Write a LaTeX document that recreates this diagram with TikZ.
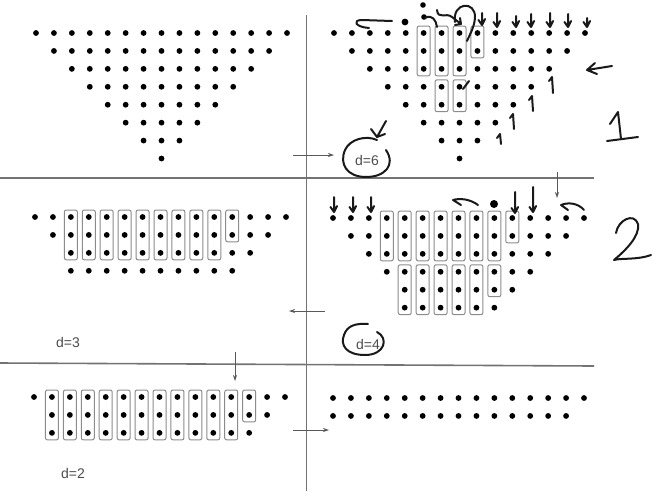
\documentclass[tikz,border=0pt]{standalone}
\usepackage{fontspec}
\setsansfont{Liberation Sans}
\usetikzlibrary{arrows.meta}

\tikzset{
	sepline/.style={draw=black!55, line width=1.6pt},
	colbox/.style={draw=black!45, line width=1pt, rounded corners=2pt},
	ink/.style={draw=black!90, line width=2pt, line cap=round, line join=round},
	pointer/.style={draw=black!65, line width=0.8pt, -{Stealth[length=6pt,width=4pt]}},
	dlabel/.style={font=\sffamily\fontsize{14}{16}\selectfont, text=black!70, inner sep=0pt},
}

% one row of dots: x0, y0, row, first column, last column
\newcommand\dotrow[5]{\foreach \cl in {#4,...,#5} \fill (#1+\cl*\SP, #2+#3*\SP) circle[radius=2.9pt];}
% box round one column: x0, y0, column, top row, bottom row
\newcommand\colbox[5]{\draw[colbox] (#1+#3*\SP-6.5, #2+#4*\SP-7) rectangle (#1+#3*\SP+6.5, #2+#5*\SP+7);}
% hand drawn arrows: x, top, bottom
\newcommand\handdown[3]{\draw[ink] (#1,#2) -- (#1,#3) (#1-3.5,#3-5) -- (#1,#3) -- (#1+3,#3-6);}
\newcommand\handup[3]{\draw[ink] (#1-3,#2+4) -- (#1,#2) -- (#1+1,#3);}

\begin{document}
\begin{tikzpicture}[x=1pt,y=-1pt]
	\useasboundingbox (0,0) rectangle (653,491);
	\pgfmathsetmacro\SP{17.93}
	\pgfmathsetmacro\XA{36}  \pgfmathsetmacro\YA{33}
	\pgfmathsetmacro\XB{334} \pgfmathsetmacro\YB{33}
	\pgfmathsetmacro\XC{35}  \pgfmathsetmacro\YC{217}
	\pgfmathsetmacro\XD{333} \pgfmathsetmacro\YD{218}
	\pgfmathsetmacro\XE{34}  \pgfmathsetmacro\YE{397}
	\pgfmathsetmacro\XF{333} \pgfmathsetmacro\YF{398}

	% frame
	\draw[sepline] (0,178) -- (594,178);
	\draw[sepline] (0,363) -- (594,366);
	\draw[sepline] (306.5,15) -- (306.5,491);

	% step 1
	\foreach \rw in {0,...,7} {
		\pgfmathtruncatemacro\LAST{14-\rw}
		\dotrow{\XA}{\YA}{\rw}{\rw}{\LAST}
		\dotrow{\XB}{\YB}{\rw}{\rw}{\LAST}
	}
	\foreach \k in {5,6,7} {\colbox{\XB}{\YB}{\k}{0}{2}}
	\colbox{\XB}{\YB}{8}{0}{1}
	\foreach \k in {6,7} {\colbox{\XB}{\YB}{\k}{3}{4}}

	% step 2
	\dotrow{\XC}{\YC}{0}{0}{14}
	\dotrow{\XC}{\YC}{1}{1}{13}
	\dotrow{\XC}{\YC}{2}{2}{12}
	\dotrow{\XC}{\YC}{3}{2}{11}
	\foreach \k in {2,...,10} {\colbox{\XC}{\YC}{\k}{0}{2}}
	\colbox{\XC}{\YC}{11}{0}{1}

	\dotrow{\XD}{\YD}{0}{0}{14}
	\dotrow{\XD}{\YD}{1}{1}{13}
	\dotrow{\XD}{\YD}{2}{2}{12}
	\dotrow{\XD}{\YD}{3}{3}{11}
	\dotrow{\XD}{\YD}{4}{4}{10}
	\dotrow{\XD}{\YD}{5}{4}{9}
	\foreach \k in {3,...,9} {\colbox{\XD}{\YD}{\k}{0}{2}}
	\colbox{\XD}{\YD}{10}{0}{1}
	\foreach \k in {4,...,8} {\colbox{\XD}{\YD}{\k}{3}{5}}
	\colbox{\XD}{\YD}{9}{3}{4}

	% step 3
	\dotrow{\XE}{\YE}{0}{0}{14}
	\dotrow{\XE}{\YE}{1}{1}{13}
	\dotrow{\XE}{\YE}{2}{1}{12}
	\foreach \k in {1,...,11} {\colbox{\XE}{\YE}{\k}{0}{2}}
	\colbox{\XE}{\YE}{12}{0}{1}

	\dotrow{\XF}{\YF}{0}{0}{14}
	\dotrow{\XF}{\YF}{1}{0}{13}

	% labels
	\node[dlabel] (d6) at (367,160) {d=6};
	\node[dlabel] (d4) at (368,344) {d=4};
	\node[dlabel] (d3) at (68,342) {d=3};
	\node[dlabel] (d2) at (73,473) {d=2};

	% pointers
	\coordinate (P6) at (293,155);  \coordinate (Q6) at (334,155);
	\coordinate (P4) at (325,311);  \coordinate (Q4) at (289,311);
	\coordinate (P2) at (293,430);  \coordinate (Q2) at (329,430);
	\coordinate (PC) at (235,352);  \coordinate (QC) at (235,381);
	\coordinate (PD) at (557,172);  \coordinate (QD) at (557,198);
	\draw[pointer] (P6) -- (Q6);
	\draw[pointer] (P4) -- (Q4);
	\draw[pointer] (P2) -- (Q2);
	\draw[pointer] (PC) -- (QC);
	\draw[pointer] (PD) -- (QD);

	% hand marks, step 1
	\draw[ink] (386,150) .. controls (396,165) and (385,177) .. (366,177) .. controls (347,177) and (339,164) .. (345,150) .. controls (350,139) and (366,135) .. (377,140);
	\draw[ink] (386,121) -- (377,137) (371,129) -- (377,137) -- (385,134);
	\draw[ink] (392,21) -- (362,20) .. controls (352,20) and (355,27) .. (369,28);
	\fill (405,22) circle[radius=3.4pt];
	\fill (423,5) circle[radius=2.8pt];
	\fill (424,17) circle[radius=2.8pt];
	\draw[ink] (425,18) .. controls (432,14) and (436,20) .. (437,27);
	\draw[ink] (437,10) .. controls (438,20) and (446,12) .. (452,17) -- (461,24) (455,25) -- (461,24) -- (460,18);
	\draw[ink] (455,22) .. controls (452,2) and (476,0) .. (475,18) .. controls (474,28) and (470,34) .. (467,41);
	\draw[ink] (463,89) -- (469,81);
	\handdown{482}{13}{25}
	\handdown{497}{13}{27}
	\handdown{516}{16}{27}
	\handdown{531}{14}{27}
	\handdown{550}{13}{27}
	\handdown{568}{14}{27}
	\handdown{587}{18}{27}
	\draw[ink] (612,66) -- (587,70) (595,63) -- (587,70) -- (597,74);
	\handup{552}{77}{93}
	\handup{532}{96}{111}
	\handup{513}{114}{129}
	\handup{500}{134}{144}
	\draw[ink] (610,124) -- (618,112) -- (621,139);
	\draw[ink] (607,141) -- (638,137);

	% hand marks, step 2
	\draw[ink] (377,332) .. controls (389,338) and (385,355) .. (365,355) .. controls (346,355) and (340,345) .. (344,335) .. controls (347,326) and (355,323) .. (368,324);
	\handdown{334}{197}{212}
	\handdown{353}{197}{212}
	\handdown{371}{197}{212}
	\handdown{515}{192}{213}
	\handdown{533}{187}{212}
	\draw[ink] (478,205) .. controls (470,199) and (460,198) .. (453,200) -- (461,205);
	\fill (494,204) circle[radius=4pt];
	\draw[ink] (584,210) .. controls (578,203) and (568,202) .. (561,205) -- (568,210);
	\draw[ink] (616,233) .. controls (618,220) and (634,212) .. (638,224) .. controls (640,236) and (626,250) .. (614,260) .. controls (620,258) and (638,260) .. (651,255);
\end{tikzpicture}
\end{document}
